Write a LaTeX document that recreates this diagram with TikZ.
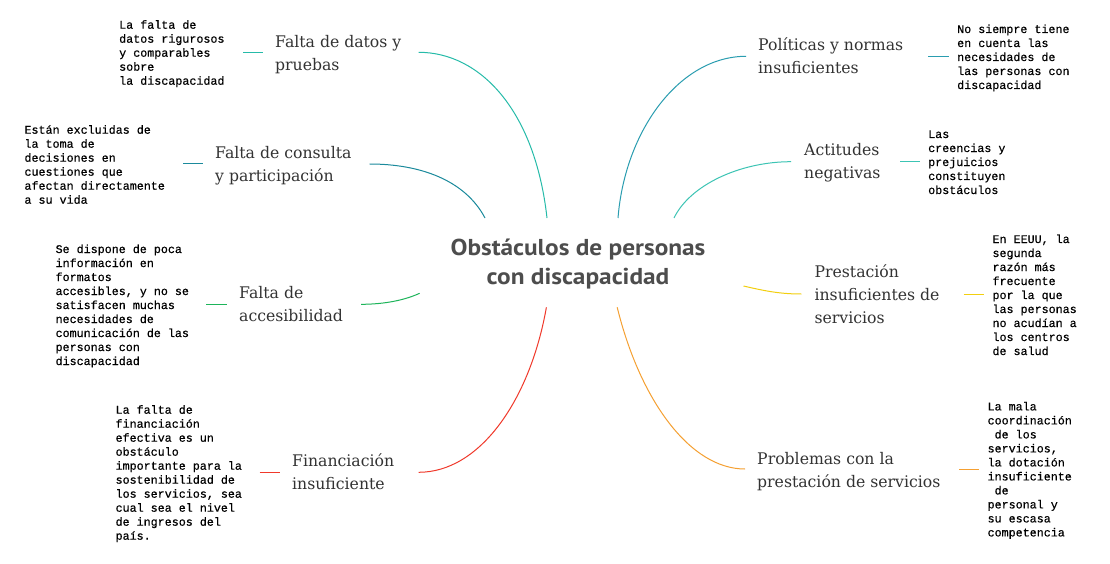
\documentclass[tikz,border=0pt]{standalone}
\usepackage{fontspec}
\newfontfamily\titlefam[FakeStretch=1.1]{PT Sans}
\newfontfamily\labfam[FakeStretch=0.98]{DejaVu Serif}
\newfontfamily\notefam[FakeBold=0.4]{Liberation Mono}
\definecolor{ctitle}{HTML}{4D4D4D}
\definecolor{clab}{HTML}{333333}
\definecolor{cdatos}{HTML}{26BBA9}
\definecolor{cconsulta}{HTML}{1B8A9C}
\definecolor{cpoliticas}{HTML}{2A9DB0}
\definecolor{cactitudes}{HTML}{3CC4B4}
\definecolor{cacces}{HTML}{1DB45A}
\definecolor{cfinan}{HTML}{F0392B}
\definecolor{cprest}{HTML}{F2CF0F}
\definecolor{cprob}{HTML}{F5A032}
\tikzset{
  notebox/.style={anchor=north west, inner sep=0pt, align=left, text=black,
    font=\notefam\fontsize{11.7}{14}\selectfont},
  labbox/.style={anchor=north west, inner sep=0pt, align=left, text=clab,
    font=\labfam\fontsize{16}{23}\selectfont},
  titlebox/.style={anchor=north, inner sep=0pt, align=center, text=ctitle,
    font=\titlefam\bfseries\fontsize{23}{28.4}\selectfont},
  link/.style={line width=1pt},
}
\begin{document}
\begin{tikzpicture}[x=1pt,y=-1pt]
\useasboundingbox[fill=white] (0,0) rectangle (1110,564);

\node[titlebox] (title) at (578,235.9) {\strut Obstáculos de personas\\con discapacidad};

% left side
\node[notebox] (n1) at (119,18.7) {\strut La falta de\\datos rigurosos\\y comparables\\sobre\\la discapacidad};
\node[labbox] (l1) at (275,31.1) {\strut Falta de datos y\\pruebas};
\node[notebox] (n2) at (24.3,123.7) {\strut Están excluidas de\\la toma de\\decisiones en\\cuestiones que\\afectan directamente\\a su vida};
\node[labbox] (l2) at (215,142.7) {\strut Falta de consulta\\y participación};
\node[notebox] (n3) at (55.4,243) {\strut Se dispone de poca\\información en\\formatos\\accesibles, y no se\\satisfacen muchas\\necesidades de\\comunicación de las\\personas con\\discapacidad};
\node[labbox] (l3) at (239,282.1) {\strut Falta de\\accesibilidad};
\node[notebox] (n4) at (115.4,403.7) {\strut La falta de\\financiación\\efectiva es un\\obstáculo\\importante para la\\sostenibilidad de\\los servicios, sea\\cual sea el nivel\\de ingresos del\\país.};
\node[labbox] (l4) at (292,450.1) {\strut Financiación\\insuficiente};

% right side
\node[labbox] (l5) at (758,34.4) {\strut Políticas y normas\\insuficientes};
\node[notebox] (n5) at (957,23) {\strut No siempre tiene\\en cuenta las\\necesidades de\\las personas con\\discapacidad};
\node[labbox] (l6) at (804,139.4) {\strut Actitudes\\negativas};
\node[notebox] (n6) at (928,128) {\strut Las\\creencias y\\prejuicios\\constituyen\\obstáculos};
\node[labbox] (l7) at (814.4,261.1) {\strut Prestación\\insuficientes de\\servicios};
\node[notebox] (n7) at (992.3,233) {\strut En EEUU, la\\segunda\\razón más\\frecuente\\por la que\\las personas\\no acudían a\\los centros\\de salud};
\node[labbox] (l8) at (757,447.7) {\strut Problemas con la\\prestación de servicios};
\node[notebox] (n8) at (987.4,400.4) {\strut La mala\\coordinación\\\strut\ de los\\servicios,\\la dotación\\insuficiente\\\strut\ de\\personal y\\su escasa\\competencia};

% connector end points
\coordinate (a1) at (418.6,52.3);  \coordinate (b1) at (547,218);
\coordinate (a2) at (369.6,164);   \coordinate (b2) at (485,218);
\coordinate (a3) at (361,304.3);   \coordinate (b3) at (419.6,293.3);
\coordinate (a4) at (418.6,472.3); \coordinate (b4) at (546.4,307.3);
\coordinate (a5) at (746,56.3);    \coordinate (b5) at (618,218);
\coordinate (a6) at (791,161.7);   \coordinate (b6) at (674,218);
\coordinate (a7) at (801.4,294);   \coordinate (b7) at (743.5,286);
\coordinate (a8) at (745,469);     \coordinate (b8) at (617.2,307.3);

\coordinate (s1a) at (243,52.3);   \coordinate (s1b) at (262.5,52.3);
\coordinate (s2a) at (183,164);    \coordinate (s2b) at (202.5,164);
\coordinate (s3a) at (206.4,304.3);\coordinate (s3b) at (226.8,304.3);
\coordinate (s4a) at (259.6,472.3);\coordinate (s4b) at (279.6,472.3);
\coordinate (s5a) at (928,56.7);   \coordinate (s5b) at (949,56.7);
\coordinate (s6a) at (900,161.7);  \coordinate (s6b) at (920,161.7);
\coordinate (s7a) at (963.5,294);  \coordinate (s7b) at (983.9,294);
\coordinate (s8a) at (959,469);    \coordinate (s8b) at (979,469);

% curves
\draw[link,cdatos] (a1) .. controls (480,52.3) and (535,110) .. (b1);
\draw[link,cconsulta] (a2) .. controls (420,164) and (465,180) .. (b2);
\draw[link,cacces] (a3) .. controls (385,304.3) and (405,300) .. (b3);
\draw[link,cfinan] (a4) .. controls (480,472.3) and (530,400) .. (b4);
\draw[link,cpoliticas] (b5) .. controls (625,130) and (680,56.3) .. (a5);
\draw[link,cactitudes] (b6) .. controls (690,185) and (740,161.7) .. (a6);
\draw[link,cprest] (b7) .. controls (765,291) and (780,294) .. (a7);
\draw[link,cprob] (b8) .. controls (640,400) and (690,469) .. (a8);

% short links
\draw[link,cdatos] (s1a) -- (s1b);
\draw[link,cconsulta] (s2a) -- (s2b);
\draw[link,cacces] (s3a) -- (s3b);
\draw[link,cfinan] (s4a) -- (s4b);
\draw[link,cpoliticas] (s5a) -- (s5b);
\draw[link,cactitudes] (s6a) -- (s6b);
\draw[link,cprest] (s7a) -- (s7b);
\draw[link,cprob] (s8a) -- (s8b);
\end{tikzpicture}
\end{document}
